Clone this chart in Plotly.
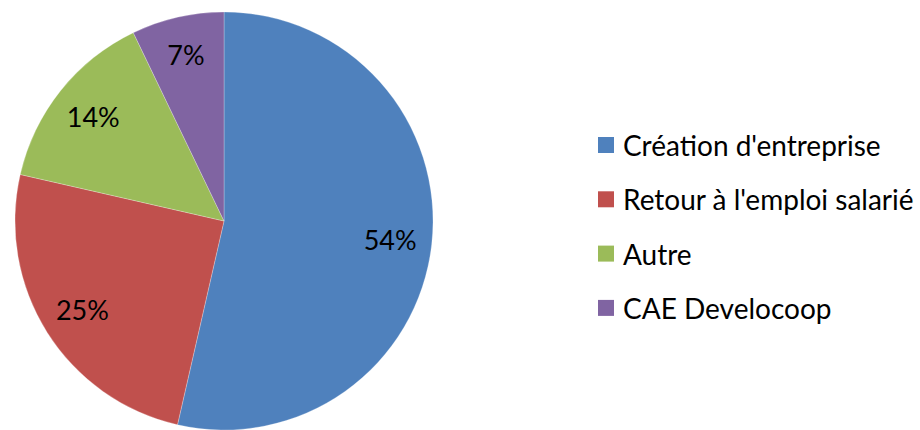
import plotly.graph_objects as go

categories = ["Création d'entreprise", "Retour à l'emploi salarié", "Autre", "CAE Develocoop"]
values = [15, 7, 4, 2]
colors = ["#4F81BD", "#C0504D", "#9BBB59", "#8064A2"]

FONT = "Lato"
W, H = 920, 430
dom = dict(x=[14 / W, 434 / W], y=[0, 418 / H])

fig = go.Figure()
# filled pie (no text)
fig.add_trace(go.Pie(
    labels=categories, values=values, sort=False, direction="clockwise", rotation=0,
    marker=dict(colors=colors, line=dict(color="rgba(255,255,255,0.5)", width=0.5)),
    textinfo="none", domain=dom, showlegend=False, hoverinfo="label+percent",
))
# transparent ring overlay to place percentage labels at ~0.8 R
fig.add_trace(go.Pie(
    labels=categories, values=values, sort=False, direction="clockwise", rotation=0,
    hole=0.6,
    marker=dict(colors=["rgba(0,0,0,0)"] * len(values), line=dict(width=0)),
    texttemplate="%{percent:.0%}", textposition="inside",
    insidetextorientation="horizontal",
    textfont=dict(family=FONT, size=27, color="black"),
    domain=dom, showlegend=False, hoverinfo="skip",
))

# Manual legend (Excel-style spacing)
leg_x = 598
leg_y0 = 145
leg_dy = 54.3
for i, (cat, col) in enumerate(zip(categories, colors)):
    yc = leg_y0 + i * leg_dy
    fig.add_shape(type="rect", xref="paper", yref="paper",
                  x0=leg_x / W, x1=(leg_x + 16) / W,
                  y0=1 - (yc + 8) / H, y1=1 - (yc - 8) / H,
                  fillcolor=col, line=dict(width=0))
    fig.add_annotation(xref="paper", yref="paper", x=(leg_x + 23) / W, y=1 - yc / H,
                       text=cat, showarrow=False, xanchor="left", yanchor="middle",
                       font=dict(family=FONT, size=28, color="black"))

fig.update_layout(
    width=W, height=H,
    margin=dict(l=0, r=0, t=0, b=0),
    paper_bgcolor="white", plot_bgcolor="white",
    uniformtext=dict(minsize=27, mode="show"),
)
fig.write_html("out.html", config={"displayModeBar": False},
               post_script="document.body.style.margin='0';")
